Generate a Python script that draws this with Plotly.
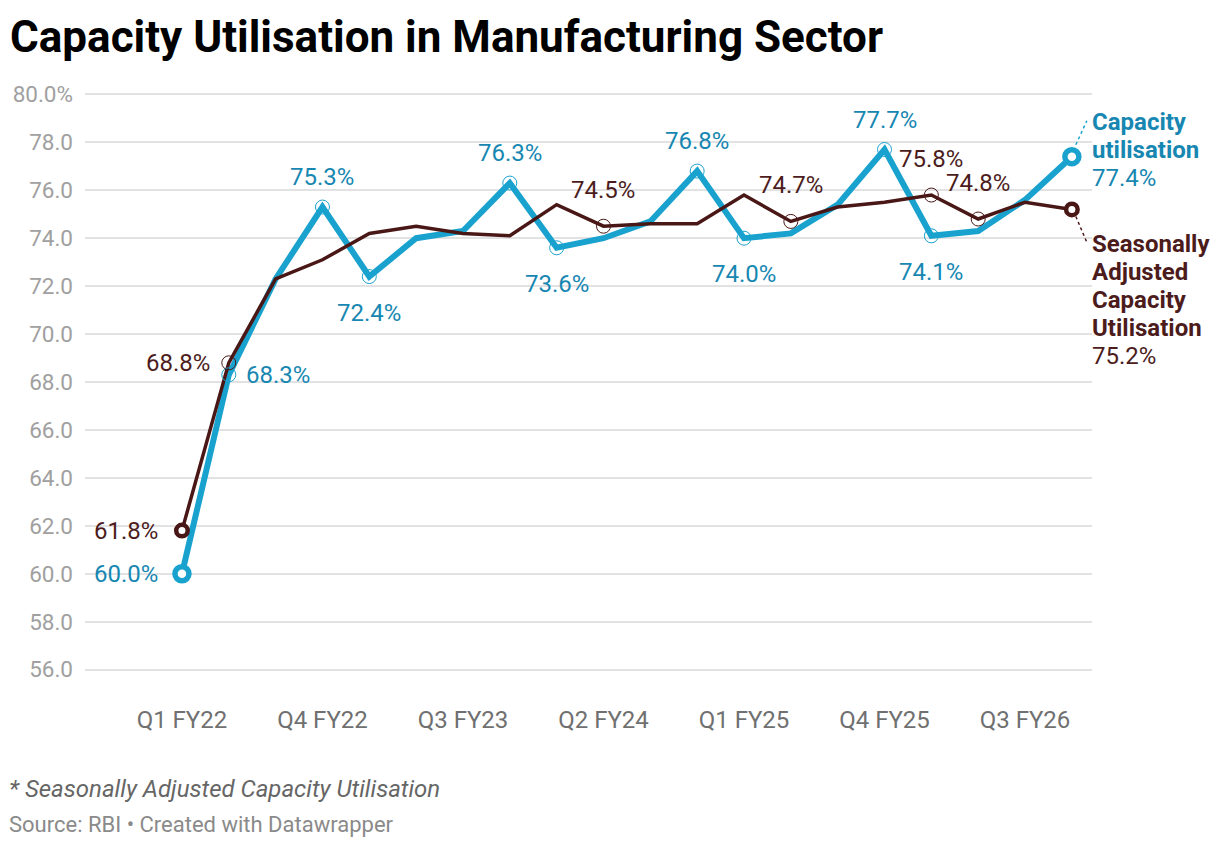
import plotly.graph_objects as go

# quarters on the x axis (one point per quarter)
quarters = ["Q1 FY22", "Q2 FY22", "Q3 FY22", "Q4 FY22",
            "Q1 FY23", "Q2 FY23", "Q3 FY23", "Q4 FY23",
            "Q1 FY24", "Q2 FY24", "Q3 FY24", "Q4 FY24",
            "Q1 FY25", "Q2 FY25", "Q3 FY25", "Q4 FY25",
            "Q1 FY26", "Q2 FY26", "Q3 FY26", "Q4 FY26"]

capacity = [60.0, 68.3, 72.3, 75.3, 72.4, 74.0, 74.3, 76.3, 73.6, 74.0,
            74.7, 76.8, 74.0, 74.2, 75.4, 77.7, 74.1, 74.3, 75.6, 77.4]

seasonal = [61.8, 68.8, 72.3, 73.1, 74.2, 74.5, 74.2, 74.1, 75.4, 74.5,
            74.6, 74.6, 75.8, 74.7, 75.3, 75.5, 75.8, 74.8, 75.5, 75.2]

y_ticks = [56, 58, 60, 62, 64, 66, 68, 70, 72, 74, 76, 78, 80]
y_ticktext = ["56.0", "58.0", "60.0", "62.0", "64.0", "66.0", "68.0",
              "70.0", "72.0", "74.0", "76.0", "78.0", "80.0%"]
x_tick_idx = [0, 3, 6, 9, 12, 15, 18]

# which points get a value label, and where the label sits
cap_labels = [(0, "left"), (1, "right"), (3, "above"), (4, "below"),
              (7, "above"), (8, "below"), (11, "above"), (12, "below"),
              (15, "above"), (16, "below")]
sea_labels = [(0, "left"), (1, "left"), (9, "above"), (13, "above"),
              (16, "above"), (17, "above")]

cap_name = ["Capacity", "utilisation"]
sea_name = ["Seasonally", "Adjusted", "Capacity", "Utilisation"]

BLUE = "#1aa2cf"
BLUE_TXT = "#1787b2"
BROWN = "#4a1717"
BROWN_TXT = "#4c1c1c"
FONT = "Roboto"
LAB = 24      # label font size
LINE_H = 28   # line spacing of the end labels

x = list(range(len(quarters)))
last = len(quarters) - 1

fig = go.Figure()

fig.add_trace(go.Scatter(x=x, y=capacity, mode="lines",
                         line=dict(color=BLUE, width=6), hoverinfo="skip"))
fig.add_trace(go.Scatter(x=x, y=seasonal, mode="lines",
                         line=dict(color=BROWN, width=3.5), hoverinfo="skip"))


def open_markers(vals, labels, color):
    idx = [i for i, _ in labels if 0 < i < len(vals) - 1]
    fig.add_trace(go.Scatter(
        x=idx, y=[vals[i] for i in idx], mode="markers",
        marker=dict(symbol="circle-open", size=14, color=color,
                    line=dict(width=1, color=color)),
        cliponaxis=False, hoverinfo="skip"))


open_markers(capacity, cap_labels, BLUE)
open_markers(seasonal, sea_labels, BROWN)

# end markers (first and last point)
for vals, color, sz, lw in [(capacity, BLUE, 14, 5.5), (seasonal, BROWN, 11.5, 4.5)]:
    fig.add_trace(go.Scatter(
        x=[0, last], y=[vals[0], vals[-1]], mode="markers",
        marker=dict(symbol="circle", size=sz, color="white",
                    line=dict(width=lw, color=color)),
        cliponaxis=False, hoverinfo="skip"))

annotations = []


def value_labels(vals, labels, color, up_shift):
    for i, pos in labels:
        a = dict(x=i, y=vals[i], text=f"{vals[i]:.1f}%", showarrow=False,
                 font=dict(family=FONT, size=LAB, color=color))
        if pos == "above":
            a.update(xanchor="center", yanchor="bottom", yshift=up_shift)
        elif pos == "below":
            a.update(xanchor="center", yanchor="top", yshift=-20)
        elif pos == "left":
            a.update(xanchor="right", yanchor="middle",
                     xshift=-22 if i == 0 else -17)
        else:
            a.update(xanchor="left", yanchor="middle", xshift=15)
        annotations.append(a)


value_labels(capacity, cap_labels, BLUE_TXT, 14)
value_labels(seasonal, sea_labels, BROWN_TXT, 20)


def end_label(vals, name_lines, color, first_shift):
    lines = [f"<b>{t}</b>" for t in name_lines] + [f"{vals[-1]:.1f}%"]
    for k, t in enumerate(lines):
        annotations.append(dict(
            x=last, y=vals[-1], xanchor="left", yanchor="middle",
            xshift=18, yshift=first_shift - k * LINE_H, text=t,
            showarrow=False, font=dict(family=FONT, size=LAB, color=color)))


end_label(capacity, cap_name, BLUE_TXT, 35)
end_label(seasonal, sea_name, BROWN_TXT, -35)

# footer
annotations.append(dict(
    xref="paper", yref="paper", x=-0.0765, y=-0.202, xanchor="left", yanchor="middle",
    text="<i>* Seasonally Adjusted Capacity Utilisation</i>", showarrow=False,
    borderpad=0, font=dict(family=FONT, size=LAB, color="#666666")))
annotations.append(dict(
    xref="paper", yref="paper", x=-0.0765, y=-0.263, xanchor="left", yanchor="middle",
    text="Source: RBI • Created with Datawrapper", showarrow=False,
    borderpad=0, font=dict(family=FONT, size=22, color="#8a8a8a")))

# dotted connectors from the end points to their labels
shapes = [
    dict(type="line", xref="x", yref="y", xsizemode="pixel", ysizemode="pixel",
         xanchor=last, yanchor=capacity[-1], x0=4, y0=12, x1=15, y1=36,
         line=dict(color=BLUE, width=1.5, dash="dot")),
    dict(type="line", xref="x", yref="y", xsizemode="pixel", ysizemode="pixel",
         xanchor=last, yanchor=seasonal[-1], x0=4, y0=-7, x1=15, y1=-33,
         line=dict(color=BROWN, width=1.5, dash="dot")),
]

# the page puts the figure 8px in from the top-left, so margins compensate
fig.update_layout(
    width=1220, height=848,
    margin=dict(l=77, r=136, t=83.6, b=183.6),
    paper_bgcolor="white", plot_bgcolor="white",
    showlegend=False,
    title=dict(text="<b>Capacity Utilisation in Manufacturing Sector</b>",
               xref="container", yref="container", x=2 / 1220, xanchor="left",
               y=1 - 13 / 848, yanchor="top",
               font=dict(family=FONT, size=44, color="#000000")),
    annotations=annotations,
    shapes=shapes,
    xaxis=dict(range=[-2.07, 19.43], tickmode="array", tickvals=x_tick_idx,
               ticktext=[quarters[i] for i in x_tick_idx],
               showgrid=False, zeroline=False, showline=False, ticks="",
               ticklabelstandoff=31, automargin=False,
               tickfont=dict(family=FONT, size=LAB, color="#707070")),
    yaxis=dict(range=[55.9, 80.1], tickmode="array", tickvals=y_ticks,
               ticktext=y_ticktext, showgrid=True, gridcolor="#e2e2e2",
               gridwidth=1.5, zeroline=False, showline=False, ticks="",
               ticklabelstandoff=11, automargin=False,
               tickfont=dict(family=FONT, size=22.5, color="#a0a0a0")),
)

fig.write_html("out.html")
